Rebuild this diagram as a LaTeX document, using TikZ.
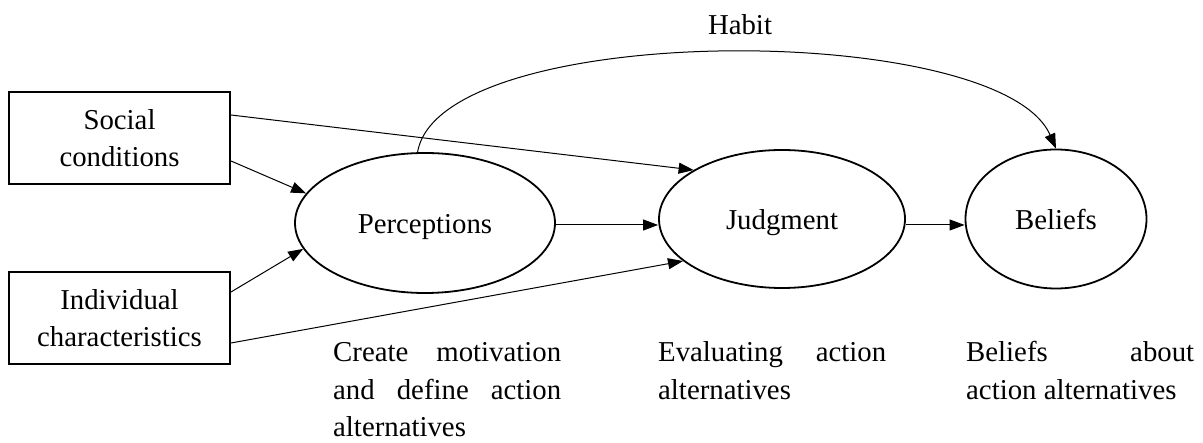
\documentclass[tikz,border=0pt]{standalone}
\usepackage{fontspec}
\setmainfont{Liberation Serif}
\usetikzlibrary{shapes.geometric,arrows.meta,calc}
\newcommand{\bodyfont}{\fontsize{28.8}{37.5}\selectfont}
\tikzset{
  box/.style={draw, line width=2pt, minimum width=221pt, minimum height=92pt, inner sep=0pt, align=center, font=\bodyfont},
  oval/.style={draw, ellipse, line width=1.8pt, inner sep=0pt, text height=22pt, text depth=0pt, font=\bodyfont},
  conn/.style={line width=1pt, -{Triangle[length=15pt,width=11pt]}},
  note/.style={anchor=base west, inner sep=0pt, font=\bodyfont}
}
\newcommand{\jline}[1]{\makebox[228pt][s]{#1}}
\begin{document}
\begin{tikzpicture}[x=1pt,y=-1pt]
\useasboundingbox (0,0) rectangle (1203,443);
\node[box] (S) at (119.5,138) {Social\\conditions};
\node[box] (I) at (119.5,318) {Individual\\characteristics};
\node[oval, minimum width=260pt, minimum height=140pt] (P) at (425,223) {Perceptions};
\node[oval, minimum width=246pt, minimum height=138pt] (J) at (782,219) {Judgment};
\node[oval, minimum width=181pt, minimum height=139pt] (B) at (1056,219) {Beliefs};
\node[font=\bodyfont, inner sep=0pt] (H) at (740,25) {Habit};
\coordinate (pj) at ($(P.east)+(0,2)$);
\coordinate (jb) at ($(J.east)+(0,6)$);
\draw[conn] ($(S.east)+(0,-23)$) -- (J.151);
\draw[conn] ($(S.east)+(0,23)$) -- (P.166);
\draw[conn] ($(I.east)+(0,-26)$) -- (P.192);
\draw[conn] ($(I.east)+(0,25)$) -- (J.203);
\draw[conn] (pj) -- (pj -| J.west);
\draw[conn] (jb) -- (jb -| B.west);
\draw[conn] (P.96) .. controls (440,20) and (1000,20) .. (B.north);
\node[note] (N1) at (333,362) {\parbox[t]{228pt}{\bodyfont\jline{Create motivation}\\\jline{and define action}\\alternatives}};
\node[note] (N2) at (658,362) {\parbox[t]{228pt}{\bodyfont\jline{Evaluating action}\\alternatives}};
\node[note] (N3) at (966,362) {\parbox[t]{228pt}{\bodyfont\jline{Beliefs about}\\action alternatives}};
\end{tikzpicture}
\end{document}
